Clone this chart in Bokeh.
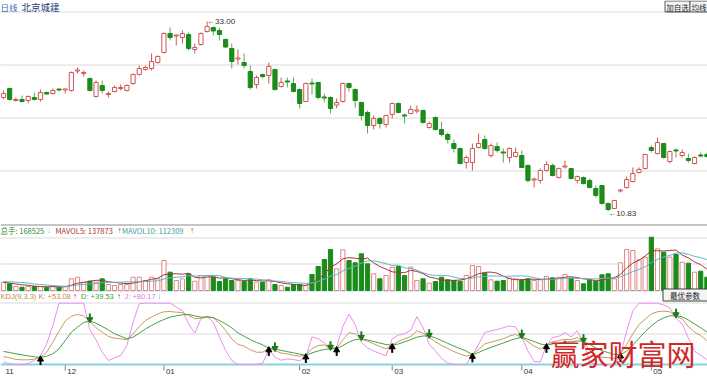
import numpy as np
from bokeh.plotting import figure
from bokeh.models import Range1d, Span, ColumnDataSource
from bokeh.core.properties import value
from bokeh.embed import file_html
from bokeh.resources import INLINE

# ---------------- data ----------------
period = "日线"
stock_name = "北京城建"

open_ = [24.13, 25.18, 23.78, 23.90, 23.78, 24.13, 23.90, 24.71, 24.60, 25.12,
         25.01, 24.95, 27.22, 26.93, 26.35, 24.25, 25.53, 24.48, 24.83, 25.18,
         24.95, 25.76, 26.81, 27.40, 27.51, 28.21, 29.38, 31.60, 31.31, 31.13,
         31.48, 29.73, 30.32, 31.83, 32.30, 31.95, 30.90, 29.85, 28.62, 28.21,
         27.16, 25.65, 26.81, 26.70, 27.40, 25.41, 26.06, 25.76, 25.06, 23.66,
         25.82, 25.88, 24.19, 24.13, 23.25, 23.66, 25.76, 25.06, 23.55, 22.38,
         20.86, 21.68, 20.98, 22.15, 23.43, 22.09, 22.26, 22.55, 22.61, 20.63,
         21.80, 20.40, 19.81, 18.76, 18.18, 16.54, 16.54, 18.30, 19.23, 17.36,
         18.41, 17.77, 17.13, 17.25, 17.36, 16.20, 14.50, 14.45, 15.61, 16.20,
         14.79, 16.02, 15.84, 14.45, 14.79, 14.45, 13.51, 13.86, 11.76, 11.18,
         13.22, 13.63, 14.33, 15.38, 15.84, 18.30, 17.59, 18.76, 16.66, 18.00,
         17.36, 17.01, 16.43, 17.42, 17.48]
high = [24.95, 25.30, 24.13, 24.36, 24.36, 24.71, 25.06, 24.83, 25.18, 25.18,
        25.18, 27.16, 27.63, 27.28, 26.46, 26.11, 26.11, 24.83, 25.53, 25.65,
        25.65, 26.93, 27.86, 27.86, 29.27, 29.03, 31.72, 32.30, 31.48, 31.95,
        31.72, 30.43, 31.72, 33.00, 32.40, 32.30, 31.00, 30.43, 29.73, 29.27,
        27.86, 26.70, 26.93, 28.21, 27.51, 26.46, 26.46, 26.46, 25.18, 25.88,
        26.35, 25.95, 24.60, 24.25, 24.01, 25.88, 25.88, 25.18, 23.66, 22.61,
        22.03, 21.80, 22.10, 23.55, 23.55, 22.26, 23.20, 23.20, 22.73, 21.33,
        21.91, 21.33, 20.05, 19.23, 18.30, 17.36, 18.76, 19.93, 19.70, 18.76,
        18.88, 18.18, 18.30, 18.30, 17.95, 16.31, 14.79, 15.84, 16.66, 16.43,
        15.96, 16.78, 15.90, 15.03, 14.91, 14.68, 13.86, 13.95, 11.88, 12.17,
        13.39, 14.91, 15.96, 15.96, 17.55, 18.53, 19.46, 18.82, 17.95, 18.18,
        18.06, 17.59, 17.25, 17.71, 17.71]
low = [23.90, 23.78, 23.66, 23.55, 23.43, 23.78, 23.66, 24.48, 24.48, 24.83,
       24.60, 24.83, 26.93, 26.58, 24.83, 24.13, 24.60, 24.13, 24.71, 24.95,
       24.83, 25.65, 26.70, 27.28, 27.28, 28.10, 29.27, 30.78, 30.20, 30.43,
       29.62, 29.27, 30.20, 31.72, 31.37, 30.78, 29.91, 27.51, 27.98, 27.51,
       25.06, 25.18, 26.35, 25.76, 24.95, 25.30, 25.30, 24.71, 22.85, 23.60,
       24.48, 23.90, 23.55, 22.26, 22.85, 23.55, 24.83, 22.96, 21.45, 19.93,
       20.40, 20.51, 20.63, 21.68, 22.26, 21.10, 22.20, 22.26, 21.10, 20.51,
       20.28, 19.58, 18.76, 17.71, 16.31, 15.84, 15.61, 18.18, 18.06, 17.13,
       17.71, 16.54, 16.54, 17.13, 15.90, 14.21, 13.63, 14.09, 15.49, 14.91,
       14.68, 15.84, 14.56, 14.09, 13.98, 13.51, 12.46, 11.64, 10.83, 11.12,
       13.04, 13.51, 14.21, 15.26, 15.73, 17.71, 17.48, 17.01, 16.43, 17.13,
       17.13, 16.54, 16.31, 17.13, 17.13]
close = [24.60, 23.90, 23.90, 23.66, 24.25, 23.90, 24.71, 24.54, 24.95, 25.01,
         25.12, 27.05, 27.34, 27.05, 24.95, 25.88, 24.95, 24.60, 25.30, 25.30,
         25.53, 26.81, 27.51, 27.63, 28.33, 28.92, 31.60, 31.13, 31.42, 31.60,
         29.85, 29.97, 31.60, 32.42, 31.89, 31.48, 30.02, 28.33, 28.74, 27.86,
         25.30, 26.46, 26.58, 27.75, 25.06, 25.88, 25.94, 24.83, 23.43, 25.76,
         25.71, 24.13, 24.07, 22.85, 23.55, 25.76, 25.30, 23.78, 22.03, 20.86,
         21.68, 21.10, 22.03, 23.43, 22.38, 21.97, 22.73, 22.67, 21.21, 21.10,
         20.40, 19.81, 19.23, 18.18, 16.43, 17.13, 18.18, 18.76, 18.18, 18.53,
         17.95, 17.65, 18.18, 17.71, 15.96, 14.45, 14.62, 15.61, 16.31, 15.03,
         15.84, 16.14, 14.68, 14.91, 14.09, 13.63, 12.69, 11.76, 11.06, 12.11,
         13.34, 14.56, 15.26, 15.73, 17.48, 17.95, 18.88, 17.13, 17.83, 17.89,
         17.71, 16.78, 17.13, 17.30, 17.25]
# volume in 万手
volume = [8.3, 6.7, 4, 3.3, 4, 4, 4, 3.3, 4, 3.3,
          4, 11.7, 13.3, 8.3, 9.3, 8.3, 11.7, 6, 5, 6,
          6, 13.3, 13.3, 10, 13.3, 11.7, 30, 18.3, 10, 11.7,
          16.7, 9.3, 15, 15, 13.3, 9, 11.7, 10, 10, 9.3,
          11.7, 8.3, 8.3, 10.7, 6, 5, 3.3, 6, 6, 5,
          16, 24, 31, 41, 21.7, 40.7, 30, 27.7, 36.7, 26.7,
          16.7, 11.7, 15, 23.3, 24, 15, 23.3, 10, 11.7, 7.3,
          9, 13.3, 10.7, 10, 9.3, 15, 25, 24, 17.3, 10.7,
          9.3, 10, 12.3, 11.7, 10.7, 11.7, 10, 10.7, 14, 12.7,
          13.3, 16, 12.3, 10, 6.7, 10.7, 9, 15.7, 16.7, 11.7,
          27.7, 41, 40, 30.7, 33.3, 53.3, 41.7, 38.3, 33.3, 36,
          28.3, 27.3, 18.3, 19.3, 13.3]
mavol5 = [8.0, 7.5, 6.5, 5.7, 5.3, 4.4, 3.9, 3.7, 3.9, 3.7,
          3.7, 5.3, 7.3, 8.1, 9.3, 10.2, 10.2, 8.7, 8.1, 7.4,
          6.9, 7.3, 8.7, 9.7, 11.2, 12.3, 15.7, 16.7, 16.7, 16.3,
          17.3, 13.2, 12.5, 13.5, 13.9, 12.3, 12.8, 11.8, 10.8, 10.0,
          10.5, 9.9, 9.5, 9.7, 9.0, 7.7, 6.7, 6.2, 5.3, 5.1,
          7.3, 11.4, 16.4, 23.4, 26.7, 31.7, 32.9, 32.2, 31.4, 32.4,
          27.6, 23.9, 21.4, 18.7, 18.1, 17.8, 20.1, 19.1, 16.8, 13.5,
          12.3, 10.3, 10.4, 10.1, 10.5, 11.7, 14.0, 16.7, 18.1, 18.4,
          17.3, 14.3, 11.9, 10.8, 10.8, 11.3, 11.3, 11.0, 11.4, 11.8,
          12.1, 13.3, 13.7, 12.9, 11.7, 11.1, 9.7, 10.4, 11.8, 12.8,
          16.2, 22.6, 27.4, 30.2, 34.5, 39.7, 39.8, 39.5, 40.0, 40.5,
          35.5, 32.6, 28.6, 25.8, 21.3]
mavol10 = [9.0, 8.7, 8.3, 8.0, 7.5, 6.5, 6.0, 5.5, 5.0, 4.5,
           4.1, 4.6, 5.5, 6.0, 6.5, 7.0, 7.8, 8.0, 8.1, 8.4,
           8.6, 8.8, 8.7, 8.9, 9.3, 9.6, 11.5, 12.7, 13.2, 13.8,
           14.8, 14.5, 14.6, 15.1, 15.1, 14.8, 13.0, 12.2, 12.2, 12.0,
           11.4, 11.4, 10.7, 10.3, 9.5, 9.1, 8.3, 7.9, 7.5, 7.1,
           7.5, 9.1, 11.3, 14.4, 15.9, 19.5, 22.2, 24.3, 27.4, 29.6,
           29.7, 28.4, 26.8, 25.1, 25.3, 22.7, 22.0, 20.3, 17.8, 15.8,
           15.1, 15.2, 14.8, 13.5, 12.0, 12.0, 12.2, 13.6, 14.1, 14.5,
           14.5, 14.2, 14.3, 14.5, 14.6, 14.3, 12.8, 11.5, 11.1, 11.3,
           11.7, 12.3, 12.4, 12.2, 11.8, 11.6, 11.5, 12.1, 12.4, 12.3,
           13.7, 16.2, 18.9, 21.0, 23.7, 28.0, 31.2, 33.5, 35.1, 37.5,
           37.6, 36.2, 34.1, 32.9, 30.9]
kdj_k = [13, 10.9, 8.2, 7.6, 7.6, 8.7, 12, 20, 36.4, 54.3,
         70.7, 78.8, 81.5, 79.3, 70, 59.8, 52.7, 45.6, 43, 41.8,
         40.2, 50, 62, 71.7, 77.2, 82.6, 85.9, 86.4, 85.3, 84.8,
         79.9, 74.5, 75.5, 78.3, 76, 67.4, 55.4, 41.8, 32.6, 30,
         24, 20, 20, 27, 23, 18.5, 17.5, 15, 13.5, 15.5,
         26, 31, 32, 25, 27, 40, 52, 50, 41, 38,
         33.7, 29.3, 25.5, 32, 38, 41.8, 45.6, 55, 51, 44.6,
         37, 31, 26, 21, 17, 13.5, 16.5, 24, 33.5, 36.5,
         39, 42, 46.5, 48.9, 44, 37, 30, 25, 32, 37,
         39, 41, 40.5, 44, 36.5, 23, 14.7, 12, 11, 10,
         17, 33, 50, 65, 74, 82.6, 86, 87, 85.9, 78,
         74.5, 62, 52.7, 47.3, 39]
kdj_d = [21.2, 19.6, 17.4, 15.8, 14.1, 12.5, 11.4, 13.6, 17.4, 25.5,
         39, 52.7, 60.9, 68.5, 70.8, 67.4, 62, 56.5, 50, 46.2,
         41.8, 44.6, 51, 58, 63.6, 69, 73.4, 77.2, 79.3, 81,
         81.5, 79.3, 77.2, 77.2, 76.5, 71.7, 66.3, 59.8, 51.6, 46,
         40.5, 36, 32, 26.5, 25.5, 23, 21, 19, 17, 15,
         19, 22, 24.5, 25.5, 26, 31, 36.5, 40.5, 42, 40,
         37.5, 35, 32.5, 31.5, 33.5, 37, 40.5, 44.5, 46.5, 46.5,
         43.5, 39, 34.5, 30, 26, 22, 16, 19.5, 24, 28,
         31.5, 35, 38.8, 42, 44.5, 41, 37.5, 33.5, 31.5, 33.5,
         35, 36.5, 37, 38.5, 37.5, 33, 27, 22.5, 19.5, 16.5,
         16, 22, 31.5, 43, 53.5, 63, 70.8, 76.2, 79.4, 79.5,
         77.8, 72.5, 66, 60, 53]
kdj_j = [4, 1, 0, 0, 2, 6.5, 14.7, 33.7, 63.6, 100,
         100, 100, 100, 100, 56.5, 40.2, 20, 6.5, 10.9, 14.7,
         31, 69, 99, 100, 100, 100, 100, 100, 93.5, 88,
         66.3, 51, 74.5, 78.3, 69, 44.6, 22.8, 6.5, 0, 0,
         0, 0, 2, 24, 12, 7, 9, 8, 6, 12,
         45, 42, 35, 25, 29, 62, 82, 65, 36, 27,
         22, 18, 14, 42, 48, 50, 56, 78, 60, 33,
         22, 10, 2, 0, 0, 0, 15, 33, 52, 55,
         57, 60, 63, 61, 45, 22, 5, 4, 31, 44,
         46, 52, 45, 55, 35, 5, 0, 0, 0, 0,
         15, 55, 87, 100, 100, 100, 100, 97, 92, 75,
         66, 43, 22, 15, 8]
golden_cross = [6, 43, 49, 54, 63, 76, 88, 100]
death_cross = [14, 44, 53, 58, 69, 84, 94, 109]
month_labels = ["11", "12", "01", "02", "03", "04", "05"]
month_start = [0, 10, 26, 48, 63, 84, 105]

vol_label = ["总手: 168525", "MAVOL5: 137873", "MAVOL10: 112309"]
kdj_label = ["KDJ(9,3,3) K: +53.08", "D: +39.53", "J: +80.17"]

# ---------------- styling ----------------
W, H = 707, 377
RED = "#d05656"
RED_WICK = "#d05656"
GRN = "#1b8c1b"
GRN_WICK = "#56ad56"
VRED = "#e08686"
F = value("Liberation Sans")
FC = value("Noto Sans CJK SC")

n = len(close)
idx = list(range(n))
up = [c >= o for o, c in zip(open_, close)]

src = ColumnDataSource(dict(
    x=idx, h=high, l=low,
    top=[max(a, b) for a, b in zip(open_, close)],
    bot=[min(a, b) for a, b in zip(open_, close)],
    wick=[RED_WICK if u else GRN_WICK for u in up],
    bfill=["white" if u else GRN for u in up],
    bline=[RED if u else GRN for u in up],
    vol=volume,
    vline=[VRED if u else GRN for u in up],
    ma5=mavol5, ma10=mavol10, k=kdj_k, d=kdj_d, j=kdj_j,
))

p = figure(width=W, height=H, output_backend="svg", toolbar_location=None,
           x_range=Range1d(-0.486, 114.1), y_range=Range1d(H, 0),
           x_axis_location=None, y_axis_location=None, min_border=0,
           outline_line_color=None, background_fill_color="white",
           border_fill_color="white")
p.grid.visible = False
p.extra_x_ranges = {"sx": Range1d(0, W)}
p.extra_y_ranges = {"price": Range1d(-8.546, 35.45),
                    "vol": Range1d(-87, 290),
                    "kdj": Range1d(-21.2, 593.5)}

# panel grid lines (screen positions)
for yy in [11.5, 64.5, 117.5, 170.5, 237.5, 263.5, 302.5, 333.5]:
    p.add_layout(Span(location=yy, dimension="width", line_color="#b4b4b4",
                      line_dash="1 1", line_width=1, level="underlay"))
p.add_layout(Span(location=224.5, dimension="width", line_color="#8c8c8c",
                  line_width=1, level="underlay"))
p.add_layout(Span(location=290.5, dimension="width", line_color="#a6e2ea",
                  line_width=1, level="underlay"))
p.add_layout(Span(location=364, dimension="width", line_color="#86d4e0",
                  line_width=2, level="underlay"))

# candles
p.segment(x0="x", y0="l", x1="x", y1="h", line_color="wick", line_width=1,
          source=src, y_range_name="price")
p.vbar(x="x", width=0.68, top="top", bottom="bot", fill_color="bfill",
       line_color="bline", line_width=1, source=src, y_range_name="price")

imax = int(np.argmax(high))
imin = int(np.argmin(low))
p.text(x=[imax], y=[high[imax]], text=["←%.2f" % high[imax]], y_range_name="price",
       text_baseline="middle", text_align="left", text_font=F,
       text_font_size="8px", text_color="#333333")
p.text(x=[imin], y=[low[imin]], text=["←%.2f" % low[imin]], y_range_name="price",
       y_offset=2, text_baseline="middle", text_align="left", text_font=F,
       text_font_size="8px", text_color="#333333")

# volume
p.vbar(x="x", width=0.68, top="vol", bottom=0, fill_color="bfill",
       line_color="vline", line_width=1, source=src, y_range_name="vol")
p.line("x", "ma5", line_color="#a83636", line_width=1, source=src, y_range_name="vol")
p.line("x", "ma10", line_color="#5cb8c8", line_width=1, source=src, y_range_name="vol")

# KDJ
p.line("x", "j", line_color="#ee8cee", line_width=1, source=src, y_range_name="kdj")
p.line("x", "k", line_color="#c89a60", line_width=1, source=src, y_range_name="kdj")
p.line("x", "d", line_color="#46a046", line_width=1, source=src, y_range_name="kdj")

gy = [kdj_k[i] for i in golden_cross]
p.segment(x0=golden_cross, y0=[v - 5 for v in gy], x1=golden_cross,
          y1=[v - 13 for v in gy], line_color="black", line_width=2, y_range_name="kdj")
p.scatter(x=golden_cross, y=[v - 3.5 for v in gy], marker="triangle", size=6,
          fill_color="black", line_color="black", y_range_name="kdj")
dy = [kdj_k[i] for i in death_cross]
p.segment(x0=death_cross, y0=[v + 5 for v in dy], x1=death_cross,
          y1=[v + 13 for v in dy], line_color="#1a7a1a", line_width=2, y_range_name="kdj")
p.scatter(x=death_cross, y=[v + 3.5 for v in dy], marker="inverted_triangle", size=6,
          fill_color="#1a7a1a", line_color="#1a7a1a", y_range_name="kdj")

# month axis
p.segment(x0=month_start[1:], y0=365, x1=month_start[1:], y1=370,
          line_color="#808080", line_width=1)
p.text(x=month_start, y=[371] * len(month_start), text=month_labels, x_offset=2,
       text_baseline="middle", text_align="left", text_font=F,
       text_font_size="8px", text_color="#333333")

# header texts
p.text(x=[0], y=[6], text=[period], x_range_name="sx", text_font=FC,
       text_font_size="8.5px", text_baseline="middle", text_color="#3c6eb4")
p.text(x=[21], y=[6], text=[stock_name], x_range_name="sx", text_font=FC,
       text_font_size="9.5px", text_baseline="middle", text_color="#1c3c78")

p.quad(left=[664.5], right=[689.5], top=[0.5], bottom=[11.5], x_range_name="sx",
       fill_color="#f4f4f4", line_color="#5a5a5a")
p.quad(left=[689.5], right=[708], top=[0.5], bottom=[11.5], x_range_name="sx",
       fill_color="#f4f4f4", line_color="#5a5a5a")
p.text(x=[677, 698.5], y=[6.5, 6.5], text=["加自选", "均线"], x_range_name="sx",
       text_font=FC, text_font_size="7.5px", text_align="center",
       text_baseline="middle", text_color="#222222")

p.text(x=[0, 55, 121.5], y=[230] * 3, text=vol_label, x_range_name="sx",
       text_font=FC, text_font_size="7.5px", text_baseline="middle",
       text_color=["#2e8b2e", "#a83636", "#3c9c9c"])
p.text(x=[46.5, 117, 189.5], y=[230] * 3, text=["↓", "↑", "↑"], x_range_name="sx",
       text_font=F, text_font_size="8px", text_baseline="middle",
       text_color=["#40c4e4", "#e02020", "#e02020"])

p.text(x=[0, 80.5, 124], y=[295.5] * 3, text=kdj_label, x_range_name="sx",
       text_font=F, text_font_size="7.5px", text_baseline="middle",
       text_color=["#c08a4a", "#3c9c3c", "#e07ee0"])
p.text(x=[72.5, 116.5, 156.5], y=[295.5] * 3, text=["↑", "↑", "↓"], x_range_name="sx",
       text_font=F, text_font_size="8px", text_baseline="middle",
       text_color=["#e02020", "#e02020", "#40c4e4"])

p.quad(left=[662.5], right=[708], top=[288.5], bottom=[300.5], x_range_name="sx",
       fill_color="#f4f4f4", line_color="#404040")
p.text(x=[684.5], y=[294.5], text=["最优参数"], x_range_name="sx", text_font=FC,
       text_font_size="7.5px", text_align="center", text_baseline="middle",
       text_color="#222222")

# watermark
p.text(x=[550], y=[352], text=["赢家财富网"], x_range_name="sx", text_font=FC,
       text_font_size="29px", text_baseline="middle", text_align="left",
       text_color="#d02828")

open("out.html", "w").write(file_html(p, INLINE))
